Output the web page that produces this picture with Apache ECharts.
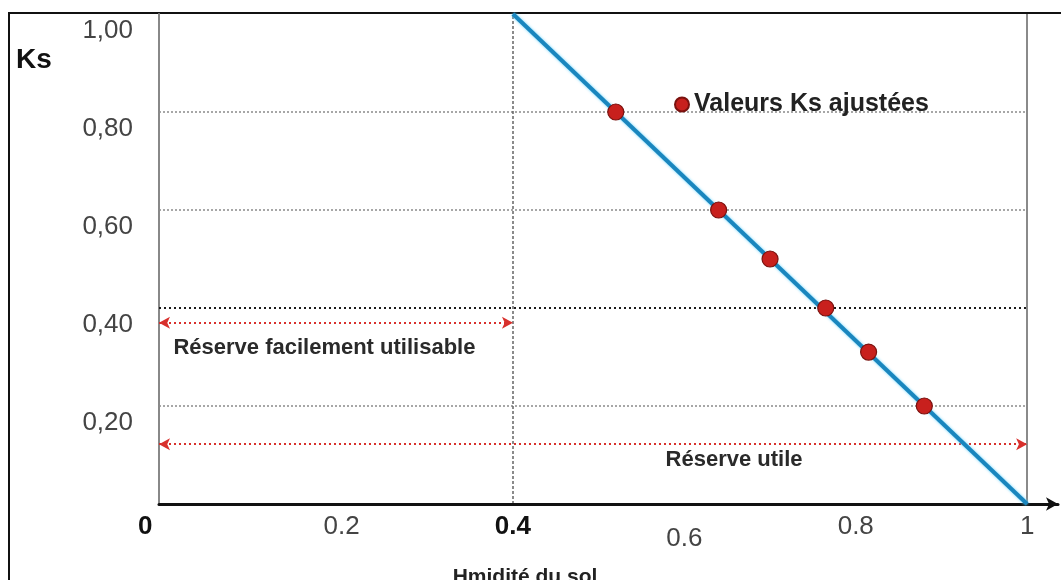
<!DOCTYPE html>
<html>
<head>
<meta charset="utf-8">
<script src="https://cdn.jsdelivr.net/npm/echarts@6/dist/echarts.min.js"></script>
<style>html,body{margin:0;padding:0;background:#fff;}#c{width:1061px;height:580px;}</style>
</head>
<body>
<div id="c"></div>
<script>
// ---- data ----
var ksLine = [[0.4, 1.0], [1.0, 0.0]];
var ksPoints = [[0.52, 0.80], [0.64, 0.60], [0.70, 0.50], [0.765, 0.40], [0.815, 0.31], [0.88, 0.20]];
var xTickValues = [0, 0.2, 0.4, 0.6, 0.8, 1];
var xTickLabels = ['0', '0.2', '0.4', '0.6', '0.8', '1'];
var yTickValues = [0.2, 0.4, 0.6, 0.8, 1.0];
var yTickLabels = ['0,20', '0,40', '0,60', '0,80', '1,00'];
var gridLevels = [0.2, 0.6, 0.8];
var thresholdLevel = 0.4;
var rfuArrow = {y: 0.37, from: 0, to: 0.4, label: 'Réserve facilement utilisable', lx: 0.18, ly: 0.318};
var ruArrow = {y: 0.122, from: 0, to: 1, label: 'Réserve utile', lx: 0.658, ly: 0.09};
var seriesName = 'Valeurs Ks ajustées';
var yTitle = 'Ks';
var xTitle = 'Hmidité du sol';

var X_MIN = -0.013, X_MAX = 1.036;
var FONT = 'Liberation Sans, Arial, sans-serif';
var chart = echarts.init(document.getElementById('c'));

var guideLines = [];
gridLevels.forEach(function (v) {
  guideLines.push([{coord: [X_MIN, v], lineStyle: {color: '#8a8a8a', width: 1.5, type: [2, 2]}}, {coord: [1, v]}]);
});
guideLines.push([{coord: [X_MIN, thresholdLevel], lineStyle: {color: '#1a1a1a', width: 2.2, type: [2, 3]}}, {coord: [1, thresholdLevel]}]);
guideLines.push([{coord: [0.4, 0], lineStyle: {color: '#666', width: 1.5, type: [3, 2]}}, {coord: [0.4, 1]}]);
guideLines.push([{coord: [1, 0], lineStyle: {color: '#8a8a8a', width: 2, type: 'solid'}}, {coord: [1, 1]}]);

function arrowLine(a) {
  return [{coord: [a.from === 0 ? X_MIN : a.from, a.y]}, {coord: [a.to, a.y]}];
}

chart.setOption({
  animation: false,
  backgroundColor: '#fff',
  textStyle: {fontFamily: FONT},
  title: [
    {text: yTitle, left: 11, top: 41, textStyle: {fontSize: 28, fontWeight: 'bold', color: '#111', fontFamily: FONT}},
    {text: xTitle, left: 520, top: 562, textAlign: 'center', textStyle: {fontSize: 21, fontWeight: 'bold', color: '#222', fontFamily: FONT}}
  ],
  legend: {
    data: [seriesName], left: 669, top: 87, icon: 'circle', itemWidth: 14, itemHeight: 14, itemGap: 5,
    textStyle: {fontSize: 25, fontWeight: 'bold', color: '#222', fontFamily: FONT}
  },
  grid: {left: 159, right: 3, top: 14, bottom: 76, containLabel: false},
  xAxis: {
    type: 'value', min: X_MIN, max: X_MAX, z: 3,
    splitLine: {show: false},
    axisTick: {show: false},
    axisLine: {show: true, onZero: false, symbol: ['none', 'arrow'], symbolSize: [10, 12], lineStyle: {color: '#111', width: 3}},
    axisLabel: {
      customValues: xTickValues, margin: 10, fontSize: 26, color: '#444', fontFamily: FONT,
      formatter: function (v) {
        var i = xTickValues.indexOf(Math.round(v * 1000) / 1000);
        var t = i >= 0 ? xTickLabels[i] : '';
        if (t === '0') return '{z|' + t + '}';
        if (t === '0.4') return '{b|' + t + '}';
        if (t === '0.6') return '{d|' + t + '}';
        if (t === '1') return '{u|' + t + '}';
        return t;
      },
      rich: {
        z: {fontSize: 26, fontWeight: 'bold', color: '#111', padding: [0, 50, 20, 0], fontFamily: FONT},
        b: {fontSize: 26, fontWeight: 'bold', color: '#111', fontFamily: FONT},
        d: {fontSize: 26, color: '#444', padding: [12, 0, 0, 0], fontFamily: FONT},
        u: {fontSize: 26, color: '#444', padding: [0, 0, 10, 0], fontFamily: FONT}
      }
    }
  },
  yAxis: {
    type: 'value', min: 0, max: 1,
    splitLine: {show: false},
    axisTick: {show: false},
    axisLine: {show: true, onZero: false, lineStyle: {color: '#888', width: 2}},
    axisLabel: {
      customValues: yTickValues, margin: 26, fontSize: 26, color: '#444', fontFamily: FONT,
      formatter: function (v) {
        var i = yTickValues.indexOf(Math.round(v * 1000) / 1000);
        return '{a|' + (i >= 0 ? yTickLabels[i] : '') + '}';
      },
      rich: {a: {fontSize: 26, color: '#444', padding: [34, 0, 0, 0], fontFamily: FONT}}
    }
  },
  graphic: [
    {type: 'rect', z: 0, silent: true, shape: {x: 9, y: 13, width: 1200, height: 700}, style: {fill: 'none', stroke: '#111', lineWidth: 2}}
  ],
  series: [
    {
      name: 'guides', type: 'line', data: [], z: 1, silent: true,
      markLine: {z: 1, silent: true, symbol: ['none', 'none'], label: {show: false}, animation: false, data: guideLines}
    },
    {
      name: 'arrows', type: 'line', data: [], z: 2, silent: true,
      markLine: {
        z: 2, silent: true, symbol: ['arrow', 'arrow'], symbolSize: [9, 11], animation: false,
        label: {show: false},
        lineStyle: {color: '#d8302c', width: 2, type: [2, 3]},
        data: [arrowLine(rfuArrow), arrowLine(ruArrow)]
      },
      markPoint: {
        z: 2, silent: true, symbol: 'rect', symbolSize: 1, itemStyle: {color: 'rgba(0,0,0,0)'}, animation: false,
        label: {show: true, position: 'inside', fontSize: 22, fontWeight: 'bold', color: '#2a2a2a', fontFamily: FONT, formatter: '{b}'},
        data: [
          {name: rfuArrow.label, coord: [rfuArrow.lx, rfuArrow.ly]},
          {name: ruArrow.label, coord: [ruArrow.lx, ruArrow.ly]}
        ]
      }
    },
    {
      name: 'ksLine', type: 'line', data: ksLine, z: 8, symbol: 'none', silent: true,
      lineStyle: {color: '#1a86be', width: 4, shadowColor: 'rgba(90,210,255,0.9)', shadowBlur: 3}
    },
    {
      name: seriesName, type: 'scatter', data: ksPoints, z: 10, symbol: 'circle', symbolSize: 16,
      itemStyle: {color: '#c8201d', borderColor: '#7a120f', borderWidth: 1.2, opacity: 1}
    }
  ]
});
</script>
</body>
</html>
